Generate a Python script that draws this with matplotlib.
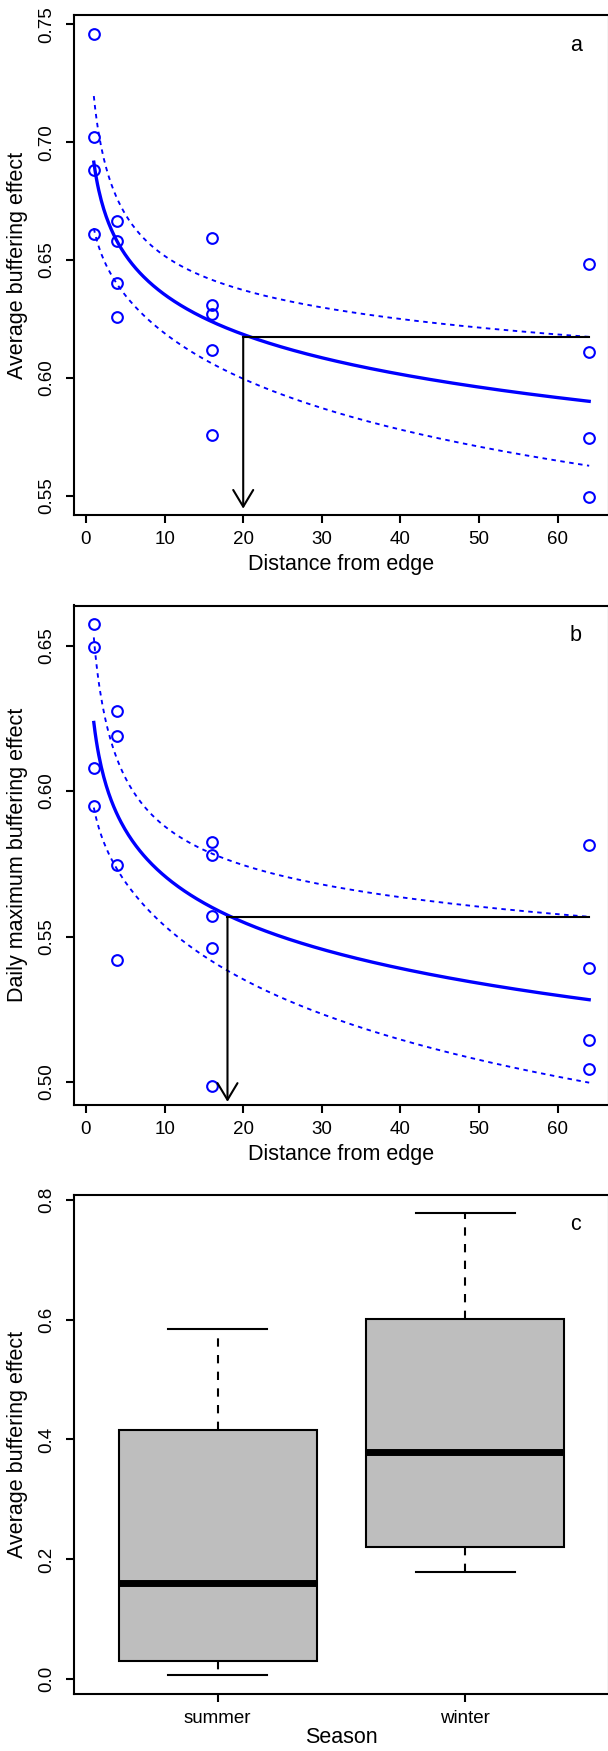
import numpy as np
import matplotlib
matplotlib.use('Agg')
import matplotlib.pyplot as plt

plt.rcParams['font.family'] = ['Liberation Sans', 'DejaVu Sans']

# distance from edge for every plot (same design in panels a and b)
dist = np.array([1, 1, 1, 1, 4, 4, 4, 4, 16, 16, 16, 16, 16, 64, 64, 64, 64])
avg_buffer = np.array([0.7459, 0.7022, 0.6884, 0.6612,
                       0.6666, 0.6579, 0.6402, 0.6258,
                       0.6595, 0.6308, 0.6270, 0.6120, 0.5759,
                       0.6484, 0.6109, 0.5743, 0.5495])
max_buffer = np.array([0.6574, 0.6496, 0.6080, 0.5947,
                       0.6274, 0.6190, 0.5747, 0.5420,
                       0.5825, 0.5779, 0.5571, 0.5459, 0.4986,
                       0.5815, 0.5393, 0.5146, 0.5046])
cut_dist = [20, 18]          # where the arrow is dropped
arrow_end = [0.5445, 0.4932]  # arrow tip height

seasons = ['summer', 'winter']
season_whislo = [0.0069, 0.1790]
season_q1 = [0.0301, 0.2204]
season_med = [0.1614, 0.3799]
season_q3 = [0.4157, 0.6003]
season_whishi = [0.5846, 0.7774]

T_CRIT = 2.131  # t(0.975, df=15)

W, H = 608, 1751
LW = 1.5
TICK_FS = 13.5
LAB_FS = 15.5

fig = plt.figure(figsize=(W / 100, H / 100), dpi=100)


def add_axes(top, bottom, left=74, right=609):
    return fig.add_axes([left / W, 1 - bottom / H, (right - left) / W, (bottom - top) / H])


def style(ax):
    for sp in ax.spines.values():
        sp.set_linewidth(LW)
    ax.tick_params(direction='out', length=6, width=LW, labelsize=TICK_FS)
    ax.tick_params(axis='x', pad=5.5)
    ax.tick_params(axis='y', pad=7.5)
    for lab in ax.get_yticklabels():
        lab.set_rotation(90)
        lab.set_va('center')


def r_lim(v):
    lo, hi = np.min(v), np.max(v)
    pad = 0.04 * (hi - lo)
    return lo - pad, hi + pad


def fit_panel(ax, x, y, cut, tip, letter, ylabel, yticks):
    lx = np.log(x)
    slope, icpt = np.polyfit(lx, y, 1)
    n = len(x)
    resid = y - (icpt + slope * lx)
    s = np.sqrt(np.sum(resid ** 2) / (n - 2))
    sxx = np.sum((lx - lx.mean()) ** 2)
    grid = np.linspace(x.min(), x.max(), 400)
    lg = np.log(grid)
    pred = icpt + slope * lg
    half = T_CRIT * s * np.sqrt(1 / n + (lg - lx.mean()) ** 2 / sxx)

    ax.plot(x, y, 'o', mfc='none', mec='blue', ms=7.7, mew=1.5, zorder=3)
    ax.plot(grid, pred, color='blue', lw=2.4)
    ax.plot(grid, pred + half, color='blue', lw=1.35, ls=(0, (2.4, 2.4)))
    ax.plot(grid, pred - half, color='blue', lw=1.35, ls=(0, (2.4, 2.4)))

    thr = (pred + half)[-1]
    ax.plot([cut, x.max()], [thr, thr], color='black', lw=LW)
    ax.annotate('', xy=(cut, tip), xytext=(cut, thr),
                arrowprops=dict(arrowstyle='->,head_length=12,head_width=7.2',
                                mutation_scale=1, lw=LW, color='black',
                                shrinkA=0, shrinkB=0))

    ax.set_xlim(*r_lim(x))
    ax.set_ylim(*r_lim(y))
    ax.set_xticks(range(0, 61, 10))
    ax.set_yticks(yticks)
    ax.set_yticklabels(['%.2f' % t for t in yticks])
    style(ax)
    ax.set_xlabel('Distance from edge', fontsize=LAB_FS, va='center')
    ax.set_ylabel(ylabel, fontsize=LAB_FS, va='center')
    ax.xaxis.set_label_coords(0.5, -0.099)
    ax.yaxis.set_label_coords(-0.105, 0.5)
    ax.text(0.938, 0.940, letter, transform=ax.transAxes, ha='center', va='center',
            fontsize=LAB_FS)


ax_a = add_axes(15.5, 515.4)
fit_panel(ax_a, dist, avg_buffer, cut_dist[0], arrow_end[0], 'a',
          'Average buffering effect', [0.55, 0.60, 0.65, 0.70, 0.75])

ax_b = add_axes(605.5, 1104.6)
fit_panel(ax_b, dist, max_buffer, cut_dist[1], arrow_end[1], 'b',
          'Daily maximum buffering effect', [0.50, 0.55, 0.60, 0.65])

# panel c: boxplot by season
ax_c = add_axes(1194.7, 1693.7)
stats = []
for i, name in enumerate(seasons):
    stats.append(dict(label=name, whislo=season_whislo[i], q1=season_q1[i],
                      med=season_med[i], q3=season_q3[i], whishi=season_whishi[i]))
ax_c.bxp(stats, positions=[1, 2], widths=0.8, showfliers=False, patch_artist=True,
         boxprops=dict(facecolor='#bebebe', edgecolor='black', linewidth=LW),
         medianprops=dict(color='black', linewidth=5),
         whiskerprops=dict(color='black', linewidth=LW, linestyle=(0, (4, 4))),
         capprops=dict(color='black', linewidth=LW),
         capwidths=0.4)
ax_c.set_xlim(0.42, 2.58)
ax_c.set_ylim(*r_lim(season_whislo + season_whishi))
ax_c.set_xticks([1, 2])
ax_c.set_xticklabels(seasons)
ax_c.set_yticks([0.0, 0.2, 0.4, 0.6, 0.8])
ax_c.set_yticklabels(['0.0', '0.2', '0.4', '0.6', '0.8'])
style(ax_c)
ax_c.set_xlabel('Season', fontsize=LAB_FS, va='center')
ax_c.set_ylabel('Average buffering effect', fontsize=LAB_FS, va='center')
ax_c.xaxis.set_label_coords(0.5, -0.0868)
ax_c.yaxis.set_label_coords(-0.105, 0.5)
ax_c.text(0.938, 0.940, 'c', transform=ax_c.transAxes, ha='center', va='center',
          fontsize=LAB_FS)

fig.savefig('out.png', dpi=100)
